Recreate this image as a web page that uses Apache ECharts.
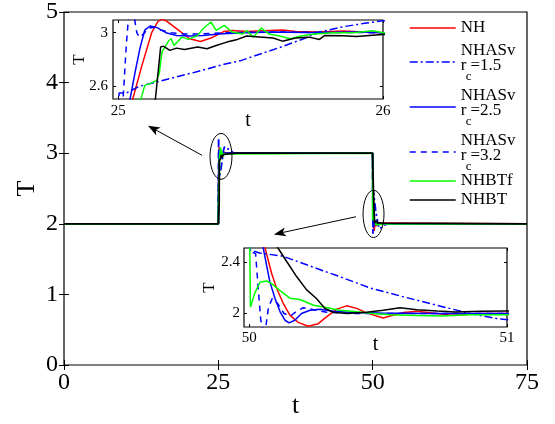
<!DOCTYPE html>
<html><head><meta charset="utf-8">
<script src="https://cdn.jsdelivr.net/npm/echarts@6/dist/echarts.min.js"></script>
<style>html,body{margin:0;padding:0;background:#fff}#c{width:555px;height:424px}</style>
</head><body><div id="c"></div>
<script>
// ---------------- data ----------------
const seriesNames = ['NH', 'NHASv rc=1.5', 'NHASv rc=2.5', 'NHASv rc=3.2', 'NHBTf', 'NHBT'];
const lowLevel = 2, highLevel = 3, tStart = 0, tEnd = 75;

const nhRise = [[25.0,2.0],[25.054,2.5],[25.09,2.76],[25.126,3.0],[25.15,3.085],[25.165,3.1],[25.18,3.09],[25.2,3.06],[25.22,3.03],[25.27,2.955],[25.31,2.935],[25.35,2.96],[25.4,3.01],[25.43,3.017],[25.485,3.01],[25.55,3.015],[25.62,3.02],[25.67,3.01],[25.75,3.005],[25.85,3.012],[25.93,3.005],[26.0,3.0],[26.5,3.0]];
const nhFall = [[50.0,3.0],[50.03,2.8],[50.061,2.52],[50.087,2.316],[50.106,2.2],[50.132,2.08],[50.158,1.987],[50.19,1.93],[50.229,1.90],[50.268,1.92],[50.30,1.973],[50.34,2.034],[50.378,2.06],[50.417,2.04],[50.456,2.005],[50.494,1.98],[50.52,1.965],[50.546,1.98],[50.60,2.008],[50.65,2.018],[50.727,2.0],[50.78,1.987],[50.83,1.99],[50.895,2.0],[51.0,2.0]];

const asv15Rise = [[25.0,2.0],[25.003,2.55],[25.03,2.55],[25.06,2.58],[25.08,2.6],[25.2,2.66],[25.3,2.71],[25.4,2.765],[25.46,2.79],[25.61,2.89],[25.7,2.955],[25.76,3.005],[25.85,3.045],[25.93,3.07],[26.0,3.09],[26.3,3.1],[26.8,3.05],[27.5,3.0]];
const asv15Fall = [[50.0,3.0],[50.003,2.5],[50.04,2.475],[50.13,2.45],[50.26,2.355],[50.35,2.29],[50.47,2.2],[50.6,2.13],[50.727,2.065],[50.856,2.0],[50.96,1.96],[51.1,1.93],[51.5,1.95],[52.3,2.0]];

const asv25Rise = [[25.0,2.0],[25.044,2.5],[25.065,2.72],[25.082,2.885],[25.10,3.02],[25.12,3.05],[25.145,3.04],[25.18,3.0],[25.22,2.98],[25.27,2.975],[25.32,2.98],[25.38,2.99],[25.47,3.0],[25.6,3.005],[25.75,3.0],[25.9,3.005],[26.0,3.0]];
const asv25Fall = [[50.0,3.0],[50.03,2.75],[50.054,2.52],[50.08,2.25],[50.10,2.12],[50.12,2.013],[50.139,1.947],[50.155,1.926],[50.177,1.947],[50.203,2.0],[50.236,2.026],[50.274,2.034],[50.326,2.018],[50.4,2.008],[50.5,2.003],[50.7,2.0],[51.0,2.0]];

const asv32Rise = [[25.0,2.0],[25.015,2.4],[25.03,2.9],[25.04,3.15],[25.05,3.22],[25.06,3.12],[25.07,3.0],[25.08,2.965],[25.095,2.99],[25.115,3.035],[25.135,3.04],[25.16,3.02],[25.2,3.0],[25.25,2.99],[25.3,2.99],[25.4,3.0],[25.6,3.005],[26.0,3.0]];
const asv32Fall = [[50.0,3.0],[50.004,2.49],[50.012,2.48],[50.025,2.47],[50.035,2.2],[50.045,1.95],[50.055,1.86],[50.065,1.9],[50.075,2.05],[50.09,2.12],[50.11,2.08],[50.135,2.0],[50.16,1.98],[50.185,2.02],[50.21,2.045],[50.25,2.03],[50.3,2.01],[50.4,2.0],[51.0,2.0]];

const btfRise = [[25.0,2.0],[25.06,2.49],[25.085,2.5],[25.1,2.607],[25.12,2.62],[25.145,2.644],[25.155,2.7],[25.165,2.855],[25.19,2.94],[25.2,2.955],[25.21,2.905],[25.24,2.967],[25.265,2.95],[25.30,2.98],[25.32,3.03],[25.35,3.08],[25.37,3.017],[25.40,3.055],[25.43,3.005],[25.47,2.99],[25.485,3.017],[25.51,2.967],[25.54,3.035],[25.57,2.99],[25.61,2.975],[25.65,2.955],[25.69,2.975],[25.74,2.99],[25.81,3.0],[25.89,3.0],[25.96,3.015],[26.0,3.0]];
const btfFall = [[50.0,3.0],[50.002,2.6],[50.005,2.05],[50.022,2.16],[50.042,2.245],[50.067,2.255],[50.087,2.235],[50.12,2.18],[50.158,2.12],[50.197,2.11],[50.25,2.065],[50.30,2.047],[50.35,2.026],[50.417,2.013],[50.48,2.0],[50.55,1.99],[50.65,1.985],[50.75,1.98],[50.85,1.99],[51.0,1.99],[51.5,2.0]];

const btRise = [[25.0,2.0],[25.13,2.3],[25.14,2.5],[25.16,2.893],[25.17,2.9],[25.195,2.868],[25.22,2.885],[25.25,2.875],[25.30,2.893],[25.335,2.88],[25.37,2.905],[25.41,2.93],[25.45,2.95],[25.485,2.975],[25.52,2.97],[25.585,2.96],[25.62,2.937],[25.67,2.96],[25.72,2.967],[25.76,2.95],[25.78,2.98],[25.85,2.978],[25.9,2.972],[25.96,2.982],[26.0,2.987],[26.5,2.99],[28.0,3.0]];
const btFall = [[50.0,3.0],[50.03,2.8],[50.07,2.62],[50.113,2.51],[50.145,2.41],[50.184,2.29],[50.223,2.185],[50.26,2.12],[50.294,2.04],[50.326,2.01],[50.38,2.0],[50.455,2.01],[50.52,2.025],[50.585,2.045],[50.65,2.03],[50.73,2.02],[50.8,2.012],[50.9,2.018],[51.0,2.02],[52.0,2.01]];

const mainXTicks = [0, 25, 50, 75];
const mainYTicks = [0, 1, 2, 3, 4, 5];
const inset1XTicks = [25, 26];
const inset1YTicks = [2.6, 3];
const inset2XTicks = [50, 51];
const inset2YTicks = [2, 2.4];

// ---------------- chart ----------------
const FONT = '"Liberation Serif", "Times New Roman", serif';
const colors = ['#ff0000', '#0000ff', '#0000ff', '#0000ff', '#00ff00', '#000000'];
const dashes = ['solid', [8, 3, 2, 3], 'solid', [6, 5], 'solid', 'solid'];
const rises = [nhRise, asv15Rise, asv25Rise, asv32Rise, btfRise, btRise];
const falls = [nhFall, asv15Fall, asv25Fall, asv32Fall, btfFall, btFall];
const fullData = rises.map((r, i) => [[tStart, lowLevel]].concat(r, falls[i], [[tEnd, lowLevel]]));

const chart = echarts.init(document.getElementById('c'), null, {renderer: 'canvas'});

function ax(grid, min, max, opts) {
  return Object.assign({
    type: 'value', gridIndex: grid, min: min, max: max,
    axisLine: {show: false}, splitLine: {show: false},
    nameMoveOverlap: false
  }, opts);
}
function mirror(a, pos) {
  const m = JSON.parse(JSON.stringify(a));
  m.position = pos; m.axisLabel = {show: false}; delete m.name;
  return m;
}
function tick(len, vals) {
  const t = {inside: true, length: len, lineStyle: {color: '#000', width: 1}};
  if (vals) t.customValues = vals;
  return t;
}
function lab(size, margin, vals) {
  const l = {color: '#000', fontFamily: FONT, fontSize: size, margin: margin};
  if (vals) l.customValues = vals;
  return l;
}
function nm(size) { return {fontFamily: FONT, fontSize: size, color: '#000'}; }

const mainX = ax(0, 0, 75, {interval: 25, axisTick: tick(5), axisLabel: lab(24, 6),
  name: 't', nameLocation: 'middle', nameGap: 28, nameTextStyle: nm(26)});
const mainY = ax(0, 0, 5, {interval: 1, axisTick: tick(5), axisLabel: lab(24, 6),
  name: 'T', nameLocation: 'middle', nameGap: 24, nameRotate: 90, nameTextStyle: nm(26)});
const in1X = ax(1, 24.98, 26, {axisTick: tick(3, inset1XTicks), axisLabel: lab(15, 5, inset1XTicks),
  name: 't', nameLocation: 'middle', nameGap: 12, nameTextStyle: nm(20)});
const in1Y = ax(1, 2.505, 3.095, {axisTick: tick(3, inset1YTicks), axisLabel: lab(15, 5, inset1YTicks),
  name: 'T', nameLocation: 'middle', nameGap: 25, nameRotate: 90, nameTextStyle: nm(17)});
const in2X = ax(2, 49.98, 51, {axisTick: tick(3, inset2XTicks), axisLabel: lab(15, 4, inset2XTicks),
  name: 't', nameLocation: 'middle', nameGap: 8, nameTextStyle: nm(20)});
const in2Y = ax(2, 1.894, 2.514, {axisTick: tick(3, inset2YTicks), axisLabel: lab(15, 4, inset2YTicks),
  name: 'T', nameLocation: 'middle', nameGap: 26, nameRotate: 90, nameTextStyle: nm(17)});

const series = [];
[[0, 0, 1.8], [2, 2, 1.5], [4, 4, 1.5]].forEach(([xi, yi, w]) => {
  seriesNames.forEach((n, i) => {
    series.push({
      type: 'line', name: n, xAxisIndex: xi, yAxisIndex: yi, data: fullData[i],
      showSymbol: false, symbol: 'none', clip: true, silent: true,
      lineStyle: {color: colors[i], width: w, type: dashes[i]},
      itemStyle: {color: colors[i]}
    });
  });
});

const legendTops = [19, 42, 87, 132, 172, 191];
function legendFmt(name) {
  if (name.indexOf('NHASv') === 0) {
    return '{a|NHASv}\n{r|r}{e|=' + name.split('=')[1] + '}\n{c|c}';
  }
  return name;
}
const legends = seriesNames.map((n, i) => ({
  data: [n], left: 409, top: legendTops[i], orient: 'vertical', padding: 0,
  itemWidth: 46, itemHeight: 12, selectedMode: false, formatter: legendFmt,
  itemStyle: {opacity: 0, borderWidth: 0},
  lineStyle: {width: 1.5},
  textStyle: {fontFamily: FONT, fontSize: 17, color: '#000', lineHeight: 18,
    rich: {
      a: {fontFamily: FONT, fontSize: 17, lineHeight: 15, color: '#000'},
      r: {fontFamily: FONT, fontSize: 17, lineHeight: 15, color: '#000'},
      e: {fontFamily: FONT, fontSize: 17, lineHeight: 15, color: '#000', padding: [0, 0, 0, 4]},
      c: {fontFamily: FONT, fontSize: 13, lineHeight: 8, color: '#000', padding: [0, 0, 0, 5]}
    }}
}));

chart.setOption({
  animation: false,
  backgroundColor: '#fff',
  textStyle: {fontFamily: FONT},
  legend: legends,
  grid: [
    {left: 64, top: 10, width: 463, height: 357, show: true, backgroundColor: '#fff', borderColor: '#000', borderWidth: 1.2},
    {left: 113, top: 20, width: 270, height: 79, show: true, backgroundColor: '#fff', borderColor: '#000', borderWidth: 1.2},
    {left: 244, top: 248, width: 263, height: 79, show: true, backgroundColor: '#fff', borderColor: '#000', borderWidth: 1.2}
  ],
  xAxis: [mainX, mirror(mainX, 'top'), in1X, mirror(in1X, 'top'), in2X, mirror(in2X, 'top')],
  yAxis: [mainY, mirror(mainY, 'right'), in1Y, mirror(in1Y, 'right'), in2Y, mirror(in2Y, 'right')],
  series: series
});

// annotations: ellipses + arrows, placed in main-axis data coordinates
function px(p) { return chart.convertToPixel({gridIndex: 0}, p); }
function ellipse(c, hw, hh) {
  const p = px(c), q = px([c[0] + hw, c[1] + hh]);
  return {type: 'ellipse', shape: {cx: p[0], cy: p[1], rx: Math.abs(q[0] - p[0]), ry: Math.abs(q[1] - p[1])},
    style: {fill: 'none', stroke: '#000', lineWidth: 1}, z: 50};
}
function arrow(a, b) {
  const p0 = px(a), p1 = px(b);
  const dx = p1[0] - p0[0], dy = p1[1] - p0[1], L = Math.hypot(dx, dy), ux = dx / L, uy = dy / L;
  const hl = 12, hw = 4.5, bx = p1[0] - ux * hl, by = p1[1] - uy * hl;
  return [
    {type: 'line', shape: {x1: p0[0], y1: p0[1], x2: bx + ux * 3, y2: by + uy * 3}, style: {stroke: '#000', lineWidth: 1}, z: 50},
    {type: 'polygon', shape: {points: [[p1[0], p1[1]], [bx - uy * hw, by + ux * hw], [bx + ux * 3, by + uy * 3], [bx + uy * hw, by - ux * hw]]}, style: {fill: '#000'}, z: 50}
  ];
}
chart.setOption({
  graphic: [
    ellipse([25.43, 2.955], 1.78, 0.325),
    ellipse([50.14, 2.14], 1.70, 0.335)
  ].concat(arrow([22.36, 2.97], [13.6, 3.39]), arrow([47.3, 2.10], [34.0, 1.85]))
});
</script>
</body></html>
